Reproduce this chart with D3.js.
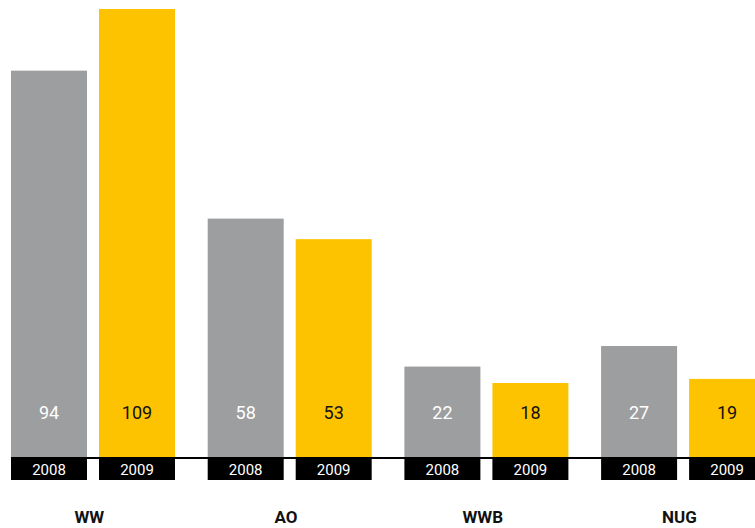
<!DOCTYPE html>
<html>
<head>
<meta charset="utf-8">
<script src="https://cdn.jsdelivr.net/npm/d3@7"></script>
<style>
  body { margin: 0; background: #fff; }
  svg { display: block; font-family: Roboto, "Liberation Sans", sans-serif; }
</style>
</head>
<body>
<div id="chart"></div>
<script>
var categories = ["WW", "AO", "WWB", "NUG"];
var years = ["2008", "2009"];
var values2008 = [94, 58, 22, 27];
var values2009 = [109, 53, 18, 19];

var colors = {"2008": "#9d9ea0", "2009": "#fdc300"};
var textColors = {"2008": "#ffffff", "2009": "#111111"};

function start(){
    var width = 755, height = 528;
    var baseY = 457;

    var svg = d3.select("#chart").append("svg")
                .attr("width", width)
                .attr("height", height);

    var data = categories.map(function(c, i){
        return {cat: c, vals: [
            {year: "2008", value: values2008[i]},
            {year: "2009", value: values2009[i]}
        ]};
    });

    var x0 = d3.scaleBand()
               .domain(categories)
               .range([11, 11 + 4 * 196.7])
               .padding(0);
    var x1 = d3.scaleBand()
               .domain(years)
               .range([0, 164])
               .paddingInner(0.1364)
               .paddingOuter(0);
    var yScale = d3.scaleLinear()
                   .domain([0, 109])
                   .range([baseY, 9]);

    // baseline
    svg.append("line")
       .attr("x1", 11)
       .attr("x2", width)
       .attr("y1", baseY + 1)
       .attr("y2", baseY + 1)
       .style("stroke", "#000")
       .style("stroke-width", 2);

    var groups = svg.selectAll("g.group")
                    .data(data)
                    .enter()
                    .append("g")
                    .attr("class", "group")
                    .attr("transform", function(d){ return "translate(" + x0(d.cat) + ",0)"; });

    var bars = groups.selectAll("g.bar")
                     .data(function(d){ return d.vals; })
                     .enter()
                     .append("g")
                     .attr("class", "bar");

    bars.append("rect")
        .attr("x", function(d){ return x1(d.year); })
        .attr("y", function(d){ return yScale(d.value); })
        .attr("width", x1.bandwidth())
        .attr("height", function(d){ return baseY - yScale(d.value); })
        .attr("fill", function(d){ return colors[d.year]; });

    bars.append("text")
        .attr("x", function(d){ return x1(d.year) + x1.bandwidth() / 2; })
        .attr("y", 418.5)
        .attr("text-anchor", "middle")
        .style("font-size", "18px")
        .style("fill", function(d){ return textColors[d.year]; })
        .text(function(d){ return d.value; });

    // year label boxes
    bars.append("rect")
        .attr("x", function(d){ return x1(d.year); })
        .attr("y", baseY)
        .attr("width", x1.bandwidth())
        .attr("height", 23)
        .attr("fill", "#000");

    bars.append("text")
        .attr("x", function(d){ return x1(d.year) + x1.bandwidth() / 2; })
        .attr("y", 474.5)
        .attr("text-anchor", "middle")
        .style("font-size", "15px")
        .style("fill", "#fff")
        .text(function(d){ return d.year; });

    // category labels
    groups.append("text")
          .attr("x", x0.bandwidth() / 2 - 20)
          .attr("y", 523)
          .attr("text-anchor", "middle")
          .style("font-size", "17px")
          .style("font-weight", "bold")
          .style("fill", "#111")
          .text(function(d){ return d.cat; });
}

start();
</script>
</body>
</html>
